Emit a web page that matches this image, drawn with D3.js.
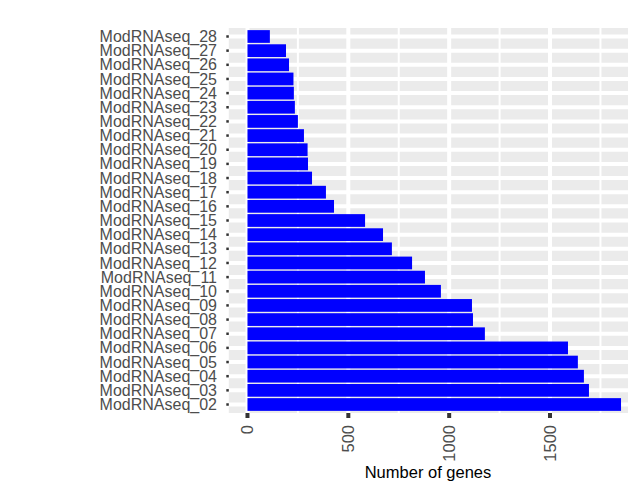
<!DOCTYPE html>
<html>
<head>
<meta charset="utf-8">
<script src="https://d3js.org/d3.v7.min.js"></script>
<style>
  body { margin: 0; background: #fff; }
  svg { display: block; font-family: "Liberation Sans", Arial, sans-serif; }
</style>
</head>
<body>
<script>
// samples from bottom (largest) to top (smallest)
let samples = ["ModRNAseq_02", "ModRNAseq_03", "ModRNAseq_04", "ModRNAseq_05", "ModRNAseq_06",
  "ModRNAseq_07", "ModRNAseq_08", "ModRNAseq_09", "ModRNAseq_10", "ModRNAseq_11",
  "ModRNAseq_12", "ModRNAseq_13", "ModRNAseq_14", "ModRNAseq_15", "ModRNAseq_16",
  "ModRNAseq_17", "ModRNAseq_18", "ModRNAseq_19", "ModRNAseq_20", "ModRNAseq_21",
  "ModRNAseq_22", "ModRNAseq_23", "ModRNAseq_24", "ModRNAseq_25", "ModRNAseq_26",
  "ModRNAseq_27", "ModRNAseq_28"];
let genes = [1852, 1693, 1668, 1638, 1589, 1177, 1118, 1113, 959, 880,
  816, 716, 672, 583, 429, 389, 320, 300, 298, 280,
  250, 235, 230, 228, 206, 191, 111];
let majorTicks = [0, 500, 1000, 1500];
let minorTicks = [250, 750, 1250, 1750];

let width = 628, height = 488;
let panel = { left: 228.8, top: 28, bottom: 413 };

let maxVal = d3.max(genes);
let pad = maxVal * 0.05;
let px = 0.2017;
let x = d3.scaleLinear()
  .domain([-pad, maxVal + pad])
  .range([panel.left, panel.left + (maxVal + 2 * pad) * px]);

let y = d3.scaleBand()
  .domain(samples.slice().reverse())
  .range([panel.top, panel.bottom])
  .paddingInner(0.1)
  .paddingOuter(0.15);

let svg = d3.select("body").append("svg")
  .attr("width", width)
  .attr("height", height);

// panel background
svg.append("rect")
  .attr("x", x.range()[0])
  .attr("y", panel.top)
  .attr("width", x.range()[1] - x.range()[0])
  .attr("height", panel.bottom - panel.top)
  .attr("fill", "#EBEBEB");

// minor grid
svg.selectAll(".minor")
  .data(minorTicks)
  .enter().append("line")
  .attr("x1", d => x(d)).attr("x2", d => x(d))
  .attr("y1", panel.top).attr("y2", panel.bottom)
  .attr("stroke", "#fff").attr("stroke-width", 2);

// major grid
svg.selectAll(".majorx")
  .data(majorTicks)
  .enter().append("line")
  .attr("x1", d => x(d)).attr("x2", d => x(d))
  .attr("y1", panel.top).attr("y2", panel.bottom)
  .attr("stroke", "#fff").attr("stroke-width", 4);

svg.selectAll(".majory")
  .data(samples)
  .enter().append("line")
  .attr("x1", x.range()[0]).attr("x2", x.range()[1])
  .attr("y1", d => y(d) + y.bandwidth() / 2)
  .attr("y2", d => y(d) + y.bandwidth() / 2)
  .attr("stroke", "#fff").attr("stroke-width", 4);

// bars
svg.selectAll(".bar")
  .data(samples)
  .enter().append("rect")
  .attr("x", x(0))
  .attr("y", d => y(d))
  .attr("width", (d, i) => x(genes[i]) - x(0))
  .attr("height", y.bandwidth())
  .attr("fill", "#0000FF");

// y axis ticks and labels
svg.selectAll(".ytick")
  .data(samples)
  .enter().append("line")
  .attr("x1", panel.left - 2.5).attr("x2", panel.left)
  .attr("y1", d => y(d) + y.bandwidth() / 2)
  .attr("y2", d => y(d) + y.bandwidth() / 2)
  .attr("stroke", "#333333").attr("stroke-width", 2.5);

svg.selectAll(".ylab")
  .data(samples)
  .enter().append("text")
  .attr("x", 217)
  .attr("y", d => y(d) + y.bandwidth() / 2)
  .attr("dy", "0.35em")
  .attr("text-anchor", "end")
  .attr("font-size", 16)
  .attr("fill", "#4D4D4D")
  .text(d => d);

// x axis ticks and labels
svg.selectAll(".xtick")
  .data(majorTicks)
  .enter().append("line")
  .attr("x1", d => x(d)).attr("x2", d => x(d))
  .attr("y1", panel.bottom).attr("y2", panel.bottom + 5)
  .attr("stroke", "#333333").attr("stroke-width", 4);

svg.selectAll(".xlab")
  .data(majorTicks)
  .enter().append("text")
  .attr("transform", d => "translate(" + x(d) + "," + (panel.bottom + 12) + ") rotate(-90)")
  .attr("dy", "0.35em")
  .attr("text-anchor", "end")
  .attr("font-size", 16.5)
  .attr("fill", "#4D4D4D")
  .text(d => d);

// axis title
svg.append("text")
  .attr("x", 428)
  .attr("y", 478)
  .attr("text-anchor", "middle")
  .attr("font-size", 16.5)
  .attr("fill", "#000")
  .text("Number of genes");
</script>
</body>
</html>
